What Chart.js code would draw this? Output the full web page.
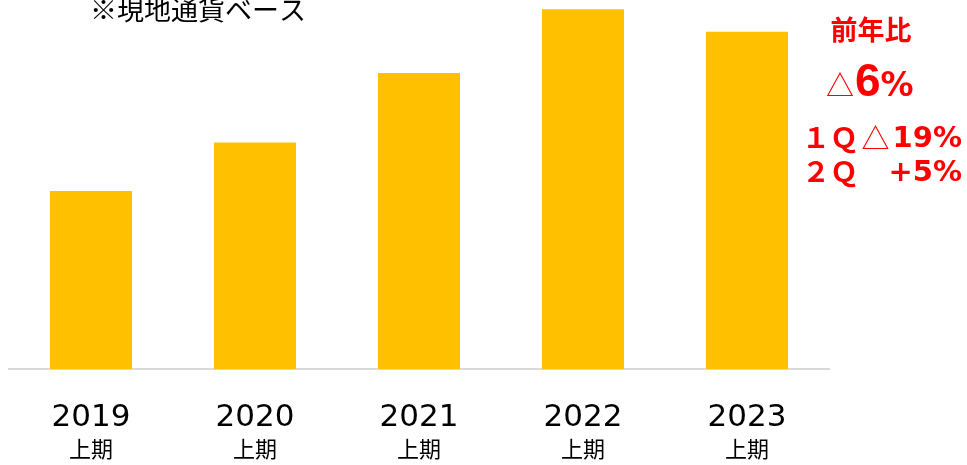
<!DOCTYPE html>
<html>
<head>
<meta charset="utf-8">
<script src="https://cdn.jsdelivr.net/npm/chart.js@4.4.0/dist/chart.umd.min.js"></script>
<style>
  html, body { margin: 0; padding: 0; background: #fff; }
  #wrap { width: 967px; height: 465px; position: relative; }
</style>
</head>
<body>
<div id="wrap"><canvas id="salesChart" width="967" height="465"></canvas></div>
<script>
// 上期売上（現地通貨ベース、2022年上期=100の指数）
const years = ['2019', '2020', '2021', '2022', '2023'];
const halfLabel = '上期';
const salesIndex = [49.5, 63.0, 82.3, 100, 93.8];

// 前年比コメント
const yoyTitle = '前年比';
const yoyTotal = ['△', '6', '%'];
const yoyQuarters = [
    ['１Ｑ', '△', '19%'],
    ['２Ｑ', '', '+5%']
];
const noteText = '※現地通貨ベース';

const RED = '#ff0000';
const JP = '"Noto Sans CJK JP", sans-serif';

// x軸ラベル（年＋上期）と注記はここで描く
const textPlugin = {
    id: 'textPlugin',
    afterDraw(chart) {
        const ctx = chart.ctx;
        const xs = chart.scales.x;
        ctx.save();
        ctx.fillStyle = '#000';
        ctx.textAlign = 'center';
        ctx.textBaseline = 'alphabetic';
        years.forEach((y, i) => {
            const cx = xs.getPixelForValue(i);
            ctx.font = '31px "DejaVu Sans", sans-serif';
            ctx.fillText(y, cx, 426);
            ctx.font = '22px ' + JP;
            ctx.fillText(halfLabel, cx, 457);
        });

        ctx.font = '27px ' + JP;
        ctx.fillText(noteText, 198, 20);

        // 前年比
        ctx.fillStyle = RED;
        ctx.font = 'bold 27px ' + JP;
        ctx.fillText(yoyTitle, 871, 40);

        ctx.textAlign = 'left';
        let x = 826;
        ctx.font = '28px ' + JP;
        ctx.fillText(yoyTotal[0], x, 96);
        x += ctx.measureText(yoyTotal[0]).width + 1;
        ctx.font = 'bold 46px "Liberation Sans", sans-serif';
        ctx.fillText(yoyTotal[1], x, 96);
        x += ctx.measureText(yoyTotal[1]).width;
        ctx.font = 'bold 33px "DejaVu Sans", sans-serif';
        ctx.fillText(yoyTotal[2], x, 96);

        const rows = [147, 181];
        yoyQuarters.forEach((q, i) => {
            const by = rows[i];
            ctx.textAlign = 'left';
            ctx.font = 'bold 28px ' + JP;
            ctx.fillText(q[0], 802, by + 1);
            ctx.textAlign = 'right';
            ctx.font = 'bold 29px "DejaVu Sans", sans-serif';
            ctx.fillText(q[2], 962, by);
            if (q[1]) {
                const w = ctx.measureText(q[2]).width;
                ctx.font = '28px ' + JP;
                ctx.fillText(q[1], 962 - w - 3, by + 2);
            }
        });
        ctx.restore();
    }
};

new Chart(document.getElementById('salesChart'), {
    type: 'bar',
    data: {
        labels: years,
        datasets: [{
            data: salesIndex,
            backgroundColor: '#ffc000',
            borderWidth: 0,
            barPercentage: 0.5,
            categoryPercentage: 1.0
        }]
    },
    options: {
        responsive: false,
        animation: false,
        layout: { padding: { left: 9, right: 138, top: 0, bottom: 88 } },
        plugins: {
            legend: { display: false },
            tooltip: { enabled: false }
        },
        scales: {
            x: {
                grid: { display: false },
                border: { color: '#d9d9d9', width: 2 },
                ticks: { display: false, padding: 0 }
            },
            y: {
                display: false,
                min: 0,
                max: 102.6
            }
        }
    },
    plugins: [textPlugin]
});
</script>
</body>
</html>
